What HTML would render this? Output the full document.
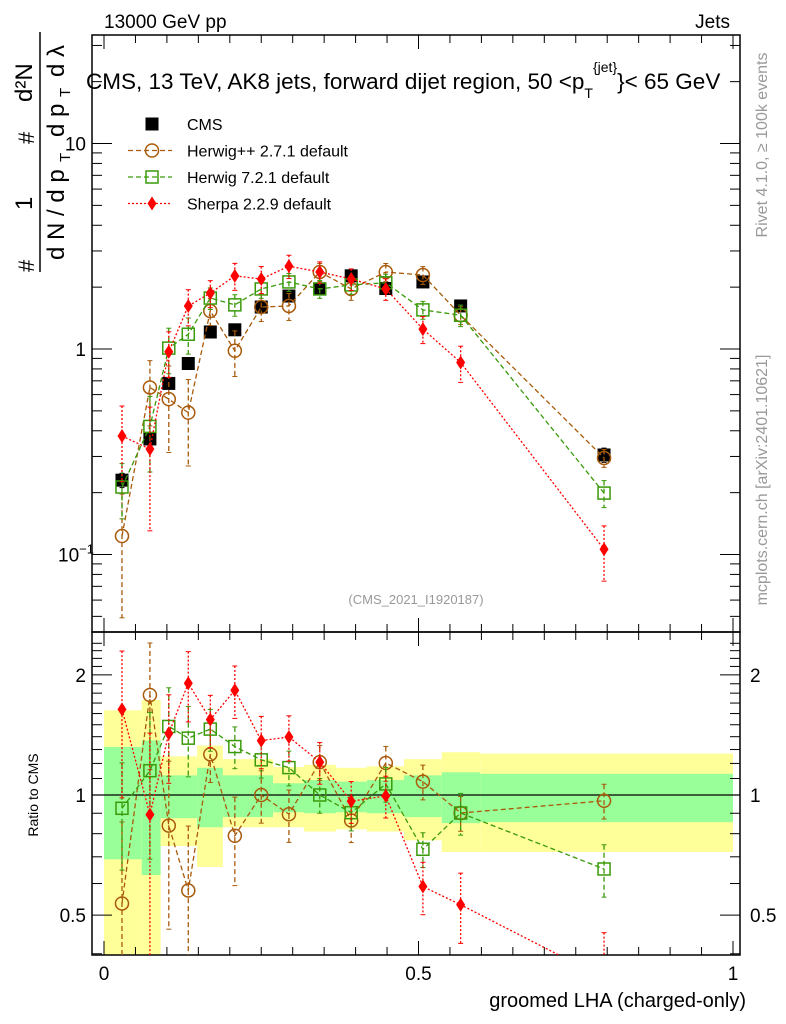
<!DOCTYPE html>
<html><head><meta charset="utf-8"><style>
body{margin:0;background:#fff}
svg{display:block;font-family:"Liberation Sans",sans-serif}
</style></head><body>
<svg id="c" width="786" height="1024" viewBox="0 0 786 1024"></svg>
<script>
const xs=[0.0286,0.073,0.103,0.134,0.169,0.208,0.25,0.294,0.343,0.393,0.448,0.507,0.567,0.795];
const cms=[0.23,0.365,0.68,0.85,1.21,1.24,1.6,1.81,1.96,2.27,1.97,2.12,1.62,0.305];
const cmsErr=[0.08,0.06,0.05,0.05,0.04,0.04,0.04,0.04,0.04,0.04,0.04,0.05,0.06,0.08];
const hpp=[0.123,0.65,0.57,0.49,1.53,0.98,1.6,1.62,2.37,1.96,2.37,2.29,1.46,0.295];
const hppErr=[0.6,0.35,0.45,0.45,0.15,0.25,0.15,0.15,0.1,0.12,0.1,0.1,0.1,0.1];
const h7=[0.213,0.42,1.01,1.18,1.77,1.64,1.96,2.12,1.96,2.05,2.1,1.55,1.46,0.199];
const h7Err=[0.3,0.4,0.25,0.2,0.12,0.12,0.1,0.1,0.1,0.1,0.1,0.1,0.12,0.15];
const sh=[0.377,0.326,0.97,1.62,1.87,2.27,2.19,2.53,2.37,2.19,1.96,1.25,0.86,0.106];
const shErr=[0.4,0.6,0.25,0.2,0.15,0.15,0.15,0.13,0.12,0.12,0.12,0.15,0.2,0.3];
const binEdges=[0,0.06,0.09,0.148,0.189,0.269,0.318,0.369,0.418,0.477,0.537,0.598,1.0];
const greenHi=[1.32,1.37,1.12,1.17,1.12,1.07,1.09,1.08,1.09,1.12,1.14,1.13];
const greenLo=[0.69,0.63,0.875,0.83,0.88,0.905,0.90,0.905,0.90,0.88,0.85,0.855];
const yellowHi=[1.63,1.73,1.25,1.33,1.23,1.175,1.19,1.17,1.18,1.23,1.28,1.27];
const yellowLo=[0.3,0.3,0.745,0.66,0.83,0.83,0.81,0.82,0.81,0.77,0.72,0.72];
const xTickLabels=["0","0.5","1"];
const ratioTickVals=[0.5,1,2];
const ratioTickLabels=["0.5","1","2"];

const NS="http://www.w3.org/2000/svg";
const svg=document.getElementById('c');
function mk(t,a,p){const e=document.createElementNS(NS,t);for(const k in a)e.setAttribute(k,a[k]);(p||svg).appendChild(e);return e;}
const L=92,R=740,T=35,M=632,B=955;
const X=v=>104+629*v;
const Y=v=>349-205.5*Math.log10(v);
const YR=v=>795-399*Math.log10(v);

const defs=mk('defs',{});
const c1=mk('clipPath',{id:'cm'},defs);mk('rect',{x:L,y:T,width:R-L,height:M-T},c1);
const c2=mk('clipPath',{id:'cr'},defs);mk('rect',{x:L,y:M,width:R-L,height:B-M},c2);

const gb=mk('g',{'clip-path':'url(#cr)'});

for(let i=0;i<greenHi.length;i++){
  const x0=X(binEdges[i]),x1=X(binEdges[i+1]);
  const ry=mk('rect',{x:x0,y:YR(yellowHi[i]),width:x1-x0,height:YR(yellowLo[i])-YR(yellowHi[i]),fill:'#ffff99'},gb);
  
  const rg=mk('rect',{x:x0,y:YR(greenHi[i]),width:x1-x0,height:YR(greenLo[i])-YR(greenHi[i]),fill:'#99ff99'},gb);
  
}
mk('line',{x1:L,x2:R,y1:YR(1),y2:YR(1),stroke:'#000','stroke-width':1.2});

mk('rect',{x:L,y:T,width:R-L,height:M-T,fill:'none',stroke:'#000','stroke-width':1.5});
mk('rect',{x:L,y:M,width:R-L,height:B-M,fill:'none',stroke:'#000','stroke-width':1.5});

for(let k=0;k<=20;k++){const v=k*0.05,x=X(v),big=k%10==0,len=big?14:8;
  for(const [y0,d] of [[T,1],[M,-1],[M,1],[B,-1]]) mk('line',{x1:x,x2:x,y1:y0,y2:y0+d*len,stroke:'#000','stroke-width':1});}
xTickLabels.forEach((s,i)=>{const t=mk('text',{x:X(i*0.5),y:980,'font-size':19,'text-anchor':'middle'});t.textContent=s;});

for(let e=-2;e<=1;e++)for(let m=1;m<10;m++){const v=m*Math.pow(10,e),y=Y(v);if(y<T||y>M)continue;const len=m==1?20:10;
  mk('line',{x1:L,x2:L+len,y1:y,y2:y,stroke:'#000'});mk('line',{x1:R,x2:R-len,y1:y,y2:y,stroke:'#000'});}
[[10,'10'],[1,'1']].forEach(([v,s])=>{const t=mk('text',{x:L-6,y:Y(v)+7,'font-size':19,'text-anchor':'end'});t.textContent=s;});
{const t=mk('text',{x:58,y:Y(0.1)+7,'font-size':19});t.innerHTML='10<tspan dy="-8" font-size="13">−1</tspan>';}

for(let v=0.4;v<=2.5;v+=0.1){const y=YR(v);if(y<M||y>B)continue;const major=Math.abs(v-0.5)<1e-6||Math.abs(v-1)<1e-6||Math.abs(v-2)<1e-6;const len=major?20:10;
  mk('line',{x1:L,x2:L+len,y1:y,y2:y,stroke:'#000'});mk('line',{x1:R,x2:R-len,y1:y,y2:y,stroke:'#000'});}
ratioTickVals.forEach((v,i)=>{
  const t=mk('text',{x:L-6,y:YR(v)+7,'font-size':19,'text-anchor':'end'});t.textContent=ratioTickLabels[i];
  const t2=mk('text',{x:R+10,y:YR(v)+7,'font-size':19});t2.textContent=ratioTickLabels[i];});

function marker(g,kind,x,y,col){
  if(kind=='sq')mk('rect',{x:x-6.5,y:y-6.5,width:13,height:13,fill:'#000'},g);
  else if(kind=='circ')mk('circle',{cx:x,cy:y,r:6.5,fill:'none',stroke:col,'stroke-width':1.5},g);
  else if(kind=='osq')mk('rect',{x:x-6,y:y-6,width:12,height:12,fill:'none',stroke:col,'stroke-width':1.5},g);
  else mk('path',{d:`M${x} ${y-7}L${x+4.5} ${y}L${x} ${y+7}L${x-4.5} ${y}Z`,fill:col},g);
}
function series(name,vals,errs,kind,col,dash,ratio){
  const g=mk('g',{'clip-path':ratio?'url(#cr)':'url(#cm)'});
  
  const f=ratio?(i=>vals[i]/cms[i]):(i=>vals[i]);const Yf=ratio?YR:Y;
  if(dash!==null){let d='';xs.forEach((x,i)=>{d+=(i?'L':'M')+X(x)+' '+Yf(f(i));});
    mk('path',{d,fill:'none',stroke:col,'stroke-width':1.3,'stroke-dasharray':dash},g);}
  xs.forEach((x,i)=>{const v=f(i),e=errs[i];const px=X(x);
    const y1=Yf(v*(1+e)),y2=Yf(Math.max(v*(1-e),1e-3));
    mk('line',{x1:px,x2:px,y1,y2,stroke:col,'stroke-width':1.3,'stroke-dasharray':dash||'none'},g);
    mk('line',{x1:px-2.5,x2:px+2.5,y1,y2:y1,stroke:col},g);mk('line',{x1:px-2.5,x2:px+2.5,y1:y2,y2,stroke:col},g);
    marker(g,kind,px,Yf(v),col);});
}
series('cms',cms,cmsErr,'sq','#000',null,false);
series('herwigpp',hpp,hppErr,'circ','#a85a0a','5,3',false);
series('herwig7',h7,h7Err,'osq','#3a9a0a','5,3',false);
series('sherpa',sh,shErr,'dia','#ff0000','2,2',false);
series('herwigpp',hpp,hppErr,'circ','#a85a0a','5,3',true);
series('herwig7',h7,h7Err,'osq','#3a9a0a','5,3',true);
series('sherpa',sh,shErr,'dia','#ff0000','2,2',true);

const lg=mk('g',{});
[['CMS','sq','#000',null],['Herwig++ 2.7.1 default','circ','#a85a0a','5,3'],['Herwig 7.2.1 default','osq','#3a9a0a','5,3'],['Sherpa 2.2.9 default','dia','#ff0000','2,2']].forEach((r,i)=>{
  const y=124+i*26.5;const e=mk('g',{},lg);
  if(r[3])mk('line',{x1:128,x2:172,y1:y,y2:y,stroke:r[2],'stroke-width':1.3,'stroke-dasharray':r[3]},e);
  marker(e,r[1],152,y,r[2]);
  const t=mk('text',{x:187,y:y+6,'font-size':16},e);t.textContent=r[0];});

function txt(s,a,name){const t=mk('text',a);t.innerHTML=s;return t;}
txt('13000 GeV pp',{x:104,y:28,'font-size':19},'energy-label');
txt('Jets',{x:730,y:28,'font-size':19,'text-anchor':'end'},'process-label');
txt('CMS, 13 TeV, AK8 jets, forward dijet region, 50 &lt;p<tspan dy="9" font-size="14">T</tspan><tspan dy="-26" font-size="14">{jet}</tspan><tspan dy="17">}&lt; 65 GeV</tspan>',{x:86,y:89,'font-size':22.5},'plot-title');
txt('(CMS_2021_I1920187)',{x:416,y:604,'font-size':13,fill:'#999','text-anchor':'middle'},'analysis-id');
txt('groomed LHA (charged-only)',{x:746,y:1007,'font-size':20,'text-anchor':'end'},'x-axis-title');
txt('Ratio to CMS',{x:0,y:0,'font-size':14,'text-anchor':'middle',transform:'translate(38 795) rotate(-90)'},'ratio-axis-title');
txt('Rivet 4.1.0, ≥ 100k events',{x:0,y:0,'font-size':16,fill:'#999','text-anchor':'middle',transform:'translate(767 145) rotate(-90)'},'rivet-label');
txt('mcplots.cern.ch [arXiv:2401.10621]',{x:0,y:0,'font-size':16,fill:'#999','text-anchor':'middle',transform:'translate(767 480) rotate(-90)'},'mcplots-label');
const yt=mk('g',{transform:'translate(40 272) rotate(-90)'});
mk('line',{x1:0,x2:240,y1:0,y2:0,stroke:'#000','stroke-width':1.5},yt);
const parts=[['#',0,-6,22],['1',62,-8,24],['d N / d p',12,24,24],['T',110,30,15],['#',128,-6,22],['d²N',170,-8,24],['d p',135,24,24],['T',175,30,15],['d λ',195,24,24]];
parts.forEach(p=>{const t=mk('text',{x:p[1],y:p[2],'font-size':p[3]},yt);t.textContent=p[0];});
</script>
</body></html>
